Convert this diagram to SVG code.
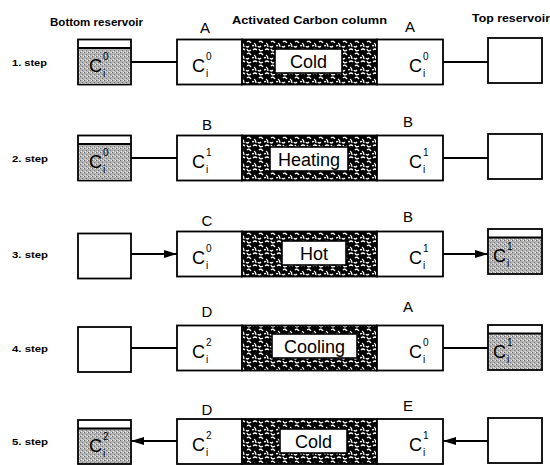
<svg xmlns="http://www.w3.org/2000/svg" width="550" height="465" viewBox="0 0 550 465">
<defs>
<pattern id="carbon" width="12" height="12" patternUnits="userSpaceOnUse">
<rect width="12" height="12" fill="#000"/>
<path d="M1 2q2-2 4 0M7 1q1 3 4 1M2 7q2 1 2 4M7 6q2-2 4 1M0 10q1-1 2 0M6 10q1 2 3 0" stroke="#fff" stroke-width="1.3" fill="none"/>
</pattern>
<pattern id="stip" width="4" height="4" patternUnits="userSpaceOnUse">
<rect width="4" height="4" fill="#b4b4b4"/>
<rect x="0" y="0" width="1" height="1" fill="#666"/>
<rect x="2" y="2" width="1" height="1" fill="#777"/>
<rect x="3" y="0" width="1" height="1" fill="#eee"/>
<rect x="1" y="3" width="1" height="1" fill="#e6e6e6"/>
</pattern>
<marker id="ah" markerWidth="14" markerHeight="10" refX="13" refY="5" orient="auto" markerUnits="userSpaceOnUse">
<path d="M0 1L13 5L0 9Z" fill="#000"/>
</marker>
<style>
.box{fill:#fff;stroke:#000;stroke-width:1.8}
.carb{fill:url(#carbon);stroke:#000;stroke-width:1.8}
.lab{fill:#fff;stroke:#000;stroke-width:1.6}
.gray{fill:url(#stip);stroke:none}
.conn{stroke:#000;stroke-width:1.8;fill:none}
.hdr{font-family:"Liberation Sans",Arial,sans-serif;font-weight:bold;font-size:10.5px;fill:#000}
.step{font-family:"Liberation Sans",Arial,sans-serif;font-weight:bold;font-size:8.5px;fill:#000}
.let{font-family:"Liberation Sans",Arial,sans-serif;font-size:15px;fill:#000}
.lt{font-family:"Liberation Sans",Arial,sans-serif;font-size:18px;fill:#000}
.c{font-family:"Liberation Sans",Arial,sans-serif;font-size:18px;fill:#000}
.s{font-family:"Liberation Sans",Arial,sans-serif;font-size:10px;fill:#000}
</style>
</defs>

<g id="headers">
<text class="hdr" x="50" y="26" textLength="93" lengthAdjust="spacingAndGlyphs">Bottom reservoir</text>
<text class="hdr" x="232" y="24" textLength="155" lengthAdjust="spacingAndGlyphs">Activated Carbon column</text>
<text class="hdr" x="472" y="22" textLength="78" lengthAdjust="spacingAndGlyphs">Top reservoir</text>
</g>

<g id="steps">
<text class="step" x="12" y="66" textLength="35" lengthAdjust="spacingAndGlyphs">1. step</text>
<text class="step" x="12" y="162" textLength="36" lengthAdjust="spacingAndGlyphs">2. step</text>
<text class="step" x="12" y="258" textLength="36" lengthAdjust="spacingAndGlyphs">3. step</text>
<text class="step" x="12" y="352" textLength="36" lengthAdjust="spacingAndGlyphs">4. step</text>
<text class="step" x="12" y="445" textLength="36" lengthAdjust="spacingAndGlyphs">5. step</text>
</g>

<g id="connectors">
<line class="conn" x1="131" y1="62" x2="177" y2="62"/>
<line class="conn" x1="443" y1="62" x2="488" y2="62"/>
<line class="conn" x1="131" y1="158" x2="177" y2="158"/>
<line class="conn" x1="443" y1="158" x2="488" y2="158"/>
<line class="conn" x1="131" y1="254" x2="177" y2="254" marker-end="url(#ah)"/>
<line class="conn" x1="443" y1="254" x2="488" y2="254" marker-end="url(#ah)"/>
<line class="conn" x1="131" y1="348" x2="177" y2="348"/>
<line class="conn" x1="443" y1="348" x2="488" y2="348"/>
<line class="conn" x1="177" y1="441" x2="131" y2="441" marker-end="url(#ah)"/>
<line class="conn" x1="488" y1="441" x2="443" y2="441" marker-end="url(#ah)"/>
</g>

<!-- Step 1 -->
<g id="bottom1">
<rect class="box" x="78" y="39.5" width="53" height="45"/>
<rect class="gray" x="79" y="48.5" width="51" height="35"/>
<line class="conn" x1="78" y1="48" x2="131" y2="48"/>
<text class="c" x="89" y="72">C</text><text class="s" x="103" y="60">0</text><text class="s" x="103" y="77">i</text>
</g>
<g id="column1">
<rect class="box" x="177" y="39.5" width="65" height="45"/>
<rect class="carb" x="242" y="39.5" width="135" height="45"/>
<rect class="box" x="377" y="39.5" width="66" height="45"/>
<rect class="lab" x="275" y="49" width="67" height="24"/>
<text class="lt" x="308.5" y="67.5" text-anchor="middle">Cold</text>
<text class="let" x="205" y="33" text-anchor="middle">A</text>
<text class="let" x="410" y="32" text-anchor="middle">A</text>
<text class="c" x="192" y="72">C</text><text class="s" x="206" y="60">0</text><text class="s" x="206" y="77">i</text>
<text class="c" x="409" y="72">C</text><text class="s" x="423" y="60">0</text><text class="s" x="423" y="77">i</text>
</g>
<g id="top1">
<rect class="box" x="488" y="38" width="54" height="45"/>
</g>

<!-- Step 2 -->
<g id="bottom2">
<rect class="box" x="78" y="135.5" width="53" height="45"/>
<rect class="gray" x="79" y="144.5" width="51" height="35"/>
<line class="conn" x1="78" y1="144" x2="131" y2="144"/>
<text class="c" x="89" y="168">C</text><text class="s" x="103" y="156">0</text><text class="s" x="103" y="173">i</text>
</g>
<g id="column2">
<rect class="box" x="177" y="135.5" width="65" height="45"/>
<rect class="carb" x="242" y="135.5" width="135" height="45"/>
<rect class="box" x="377" y="135.5" width="66" height="45"/>
<rect class="lab" x="270" y="147" width="78" height="24"/>
<text class="lt" x="309" y="165.5" text-anchor="middle">Heating</text>
<text class="let" x="207" y="130" text-anchor="middle">B</text>
<text class="let" x="408" y="127" text-anchor="middle">B</text>
<text class="c" x="192" y="168">C</text><text class="s" x="206" y="156">1</text><text class="s" x="206" y="173">i</text>
<text class="c" x="409" y="168">C</text><text class="s" x="423" y="156">1</text><text class="s" x="423" y="173">i</text>
</g>
<g id="top2">
<rect class="box" x="488" y="134" width="54" height="45"/>
</g>

<!-- Step 3 -->
<g id="bottom3">
<rect class="box" x="78" y="233.5" width="53" height="45"/>
</g>
<g id="column3">
<rect class="box" x="177" y="231.5" width="65" height="45"/>
<rect class="carb" x="242" y="231.5" width="135" height="45"/>
<rect class="box" x="377" y="231.5" width="66" height="45"/>
<rect class="lab" x="282" y="241" width="64" height="24"/>
<text class="lt" x="314" y="259.5" text-anchor="middle">Hot</text>
<text class="let" x="207" y="226" text-anchor="middle">C</text>
<text class="let" x="408" y="222" text-anchor="middle">B</text>
<text class="c" x="192" y="264">C</text><text class="s" x="206" y="252">0</text><text class="s" x="206" y="269">i</text>
<text class="c" x="409" y="264">C</text><text class="s" x="423" y="252">1</text><text class="s" x="423" y="269">i</text>
</g>
<g id="top3">
<rect class="box" x="488" y="229" width="54" height="45"/>
<rect class="gray" x="489" y="238" width="52" height="35"/>
<line class="conn" x1="488" y1="237.5" x2="542" y2="237.5"/>
<text class="c" x="493" y="262">C</text><text class="s" x="507" y="250">1</text><text class="s" x="507" y="267">i</text>
</g>

<!-- Step 4 -->
<g id="bottom4">
<rect class="box" x="78" y="327" width="53" height="45"/>
</g>
<g id="column4">
<rect class="box" x="177" y="325.5" width="65" height="45"/>
<rect class="carb" x="242" y="325.5" width="135" height="45"/>
<rect class="box" x="377" y="325.5" width="66" height="45"/>
<rect class="lab" x="272" y="334" width="85" height="24"/>
<text class="lt" x="314.5" y="352.5" text-anchor="middle">Cooling</text>
<text class="let" x="207" y="317" text-anchor="middle">D</text>
<text class="let" x="408" y="312" text-anchor="middle">A</text>
<text class="c" x="192" y="358">C</text><text class="s" x="206" y="346">2</text><text class="s" x="206" y="363">i</text>
<text class="c" x="409" y="358">C</text><text class="s" x="423" y="346">0</text><text class="s" x="423" y="363">i</text>
</g>
<g id="top4">
<rect class="box" x="488" y="325" width="54" height="45"/>
<rect class="gray" x="489" y="334" width="52" height="35"/>
<line class="conn" x1="488" y1="333.5" x2="542" y2="333.5"/>
<text class="c" x="493" y="358">C</text><text class="s" x="507" y="346">1</text><text class="s" x="507" y="363">i</text>
</g>

<!-- Step 5 -->
<g id="bottom5">
<rect class="box" x="78" y="420" width="53" height="44"/>
<rect class="gray" x="79" y="429" width="51" height="34"/>
<line class="conn" x1="78" y1="428.5" x2="131" y2="428.5"/>
<text class="c" x="89" y="452">C</text><text class="s" x="103" y="440">2</text><text class="s" x="103" y="457">i</text>
</g>
<g id="column5">
<rect class="box" x="177" y="419" width="65" height="45"/>
<rect class="carb" x="242" y="419" width="135" height="45"/>
<rect class="box" x="377" y="419" width="66" height="45"/>
<rect class="lab" x="280" y="429" width="67" height="24"/>
<text class="lt" x="313.5" y="447.5" text-anchor="middle">Cold</text>
<text class="let" x="207" y="415" text-anchor="middle">D</text>
<text class="let" x="408" y="411" text-anchor="middle">E</text>
<text class="c" x="192" y="451">C</text><text class="s" x="206" y="439">2</text><text class="s" x="206" y="456">i</text>
<text class="c" x="409" y="451">C</text><text class="s" x="423" y="439">1</text><text class="s" x="423" y="456">i</text>
</g>
<g id="top5">
<rect class="box" x="488" y="418" width="54" height="45"/>
</g>
</svg>
